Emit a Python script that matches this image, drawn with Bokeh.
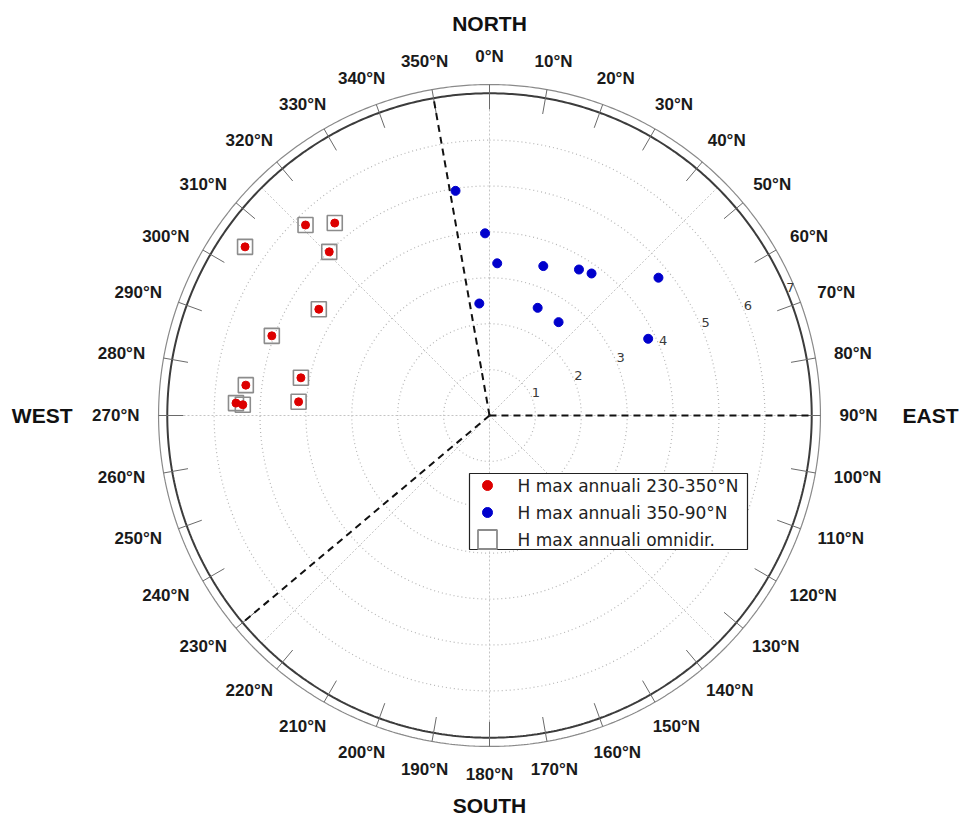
import numpy as np
from bokeh.plotting import figure
from bokeh.models import Range1d
from bokeh.core.properties import value
from bokeh.embed import file_html
from bokeh.resources import INLINE

# ---------------- data (direction in deg N, clockwise; H in m) ----------------
DIR_RED = [316.0, 321.2, 304.6, 315.6, 301.9, 290.1, 281.3, 277.1, 274.1, 272.8, 272.5]
H_RED = [5.77, 5.38, 6.47, 4.99, 4.38, 5.05, 4.19, 5.35, 4.17, 5.53, 5.38]

DIR_BLUE = [351.4, 358.6, 2.9, 19.8, 31.5, 35.7, 50.8, 354.8, 24.1, 36.5, 64.2]
H_BLUE = [4.95, 3.97, 3.32, 3.46, 3.73, 3.81, 4.75, 2.45, 2.57, 2.53, 3.84]

DIR_OMNI = [316.0, 321.2, 304.6, 315.6, 301.9, 290.1, 281.3, 277.1, 274.1, 272.8, 272.5]
H_OMNI = [5.77, 5.38, 6.47, 4.99, 4.38, 5.05, 4.19, 5.35, 4.17, 5.53, 5.38]

SECTOR_DIRS = [350, 90, 230]
RINGS = [1, 2, 3, 4, 5, 6, 7]
RING_LABELS = ["1", "2", "3", "4", "5", "6", "7"]
DIR_TICKS = list(range(0, 360, 10))
DIR_LABELS = [f"{d}°N" for d in DIR_TICKS]
CARDINALS = ["NORTH", "EAST", "SOUTH", "WEST"]
LEGEND_LABELS = ["H max annuali 230-350°N", "H max annuali 350-90°N", "H max annuali omnidir."]

# ---------------- layout ----------------
W, H = 960, 817
S = 45.9            # px per metre
CX, CY = 489, 415   # polar centre in canvas px
RMAX = 7.02
ROUT = 7.21


def pol(theta_deg, r):
    t = np.radians(np.asarray(theta_deg, dtype=float))
    r = np.asarray(r, dtype=float)
    return r * np.sin(t), r * np.cos(t)


def img(ix, iy):
    # screen px -> data coordinates, for layout items only
    return (ix - CX) / S, (CY - iy) / S


p = figure(width=W, height=H, output_backend="svg", toolbar_location=None,
           x_range=Range1d(-CX / S, (W - CX) / S),
           y_range=Range1d(-(H - CY) / S, CY / S),
           x_axis_location=None, y_axis_location=None,
           min_border=0, outline_line_color=None,
           background_fill_color="white", border_fill_color="white")
p.grid.visible = False

# dotted grid circles
ts = np.linspace(0, 360, 721)
cxs, cys = [], []
for r in RINGS[:-1]:
    x, y = pol(ts, r)
    cxs.append(list(x)); cys.append(list(y))
p.multi_line(cxs, cys, line_color="#b5b5b5", line_width=1.2, line_dash="1 3")

# dotted radial grid lines every 45 deg
rxs, rys = [], []
for a in range(0, 360, 45):
    x, y = pol([a, a], [0, RMAX])
    rxs.append(list(x)); rys.append(list(y))
p.multi_line(rxs, rys, line_color="#c4c4c4", line_width=1, line_dash="2 2")

# outer frame: dark circle, light circle and 10-degree ticks
x, y = pol(ts, RMAX)
p.line(x, y, line_color="#3c3c3c", line_width=2)
x, y = pol(ts, ROUT)
p.line(x, y, line_color="#8a8a8a", line_width=1.2)
txs, tys = [], []
for a in DIR_TICKS:
    x, y = pol([a, a], [6.67, ROUT])
    txs.append(list(x)); tys.append(list(y))
p.multi_line(txs, tys, line_color="#6a6a6a", line_width=1)

# dashed sector boundaries
sxs, sys_ = [], []
for a in SECTOR_DIRS:
    x, y = pol([a, a], [0, RMAX])
    sxs.append(list(x)); sys_.append(list(y))
p.multi_line(sxs, sys_, line_color="#111111", line_width=2, line_dash="7 5")

# data markers
x, y = pol(DIR_OMNI, H_OMNI)
p.scatter(x, y, marker="square", size=15, fill_color=None,
          line_color="#8c8c8c", line_width=1.6)
x, y = pol(DIR_RED, H_RED)
p.scatter(x, y, marker="circle", size=8, fill_color="#dd0000", line_color="#dd0000")
x, y = pol(DIR_BLUE, H_BLUE)
p.scatter(x, y, marker="circle", size=9, fill_color="#0000cc", line_color="#0000cc")

# ring labels at 67.5 deg
x, y = pol([67.5] * len(RINGS), RINGS)
p.text(x, y, text=RING_LABELS, x_offset=4, y_offset=-5,
       text_font=value("DejaVu Sans"), text_font_size="13px", text_color="#3a3a3a",
       text_align="center", text_baseline="middle")

# direction labels
FS = 17
A, HH = 350, 7
lx, ly = [], []
for d, lab in zip(DIR_TICKS, DIR_LABELS):
    nd = len(lab) - 2
    hw = 0.5 * FS * (0.556 * nd + 0.4 + 0.722)
    t = np.radians(d)
    lx.append((A + hw) * np.sin(t) / S)
    ly.append((A + 2 + HH) * np.cos(t) / S)
p.text(lx, ly, text=DIR_LABELS, text_font=value("Liberation Sans"),
       text_font_style="bold", text_font_size=f"{FS}px", text_color="#1a1a1a",
       text_align="center", text_baseline="middle")

# cardinal labels
CF = "21px"
nx, ny = img(489, 23)
p.text([nx], [ny], text=[CARDINALS[0]], text_font=value("Liberation Sans"), text_font_style="bold",
       text_font_size=CF, text_color="#111111", text_align="center", text_baseline="middle")
sx, sy = img(489, 805)
p.text([sx], [sy], text=[CARDINALS[2]], text_font=value("Liberation Sans"), text_font_style="bold",
       text_font_size=CF, text_color="#111111", text_align="center", text_baseline="middle")
ex, ey = img(902, 415)
p.text([ex], [ey], text=[CARDINALS[1]], text_font=value("Liberation Sans"), text_font_style="bold",
       text_font_size=CF, text_color="#111111", text_align="left", text_baseline="middle")
wx, wy = img(72, 415)
p.text([wx], [wy], text=[CARDINALS[3]], text_font=value("Liberation Sans"), text_font_style="bold",
       text_font_size=CF, text_color="#111111", text_align="right", text_baseline="middle")

# legend (drawn in place)
l, t = img(469, 473)
r, b = img(747, 549)
p.quad(left=[l], right=[r], top=[t], bottom=[b], fill_color="white",
       line_color="#222222", line_width=1.2)
mx, my1 = img(487, 485)
_, my2 = img(487, 512)
_, my3 = img(487, 539)
p.scatter([mx], [my1], marker="circle", size=10, fill_color="#dd0000", line_color="#dd0000")
p.scatter([mx], [my2], marker="circle", size=10, fill_color="#0000cc", line_color="#0000cc")
p.scatter([mx], [my3], marker="square", size=19, fill_color=None, line_color="#8c8c8c", line_width=1.8)
tx0, _ = img(517, 0)
p.text([tx0] * 3, [my1, my2, my3], text=LEGEND_LABELS, text_font=value("DejaVu Sans"),
       text_font_size="17px", text_color="#222222", text_align="left", text_baseline="middle")

open("out.html", "w").write(file_html(p, INLINE))
